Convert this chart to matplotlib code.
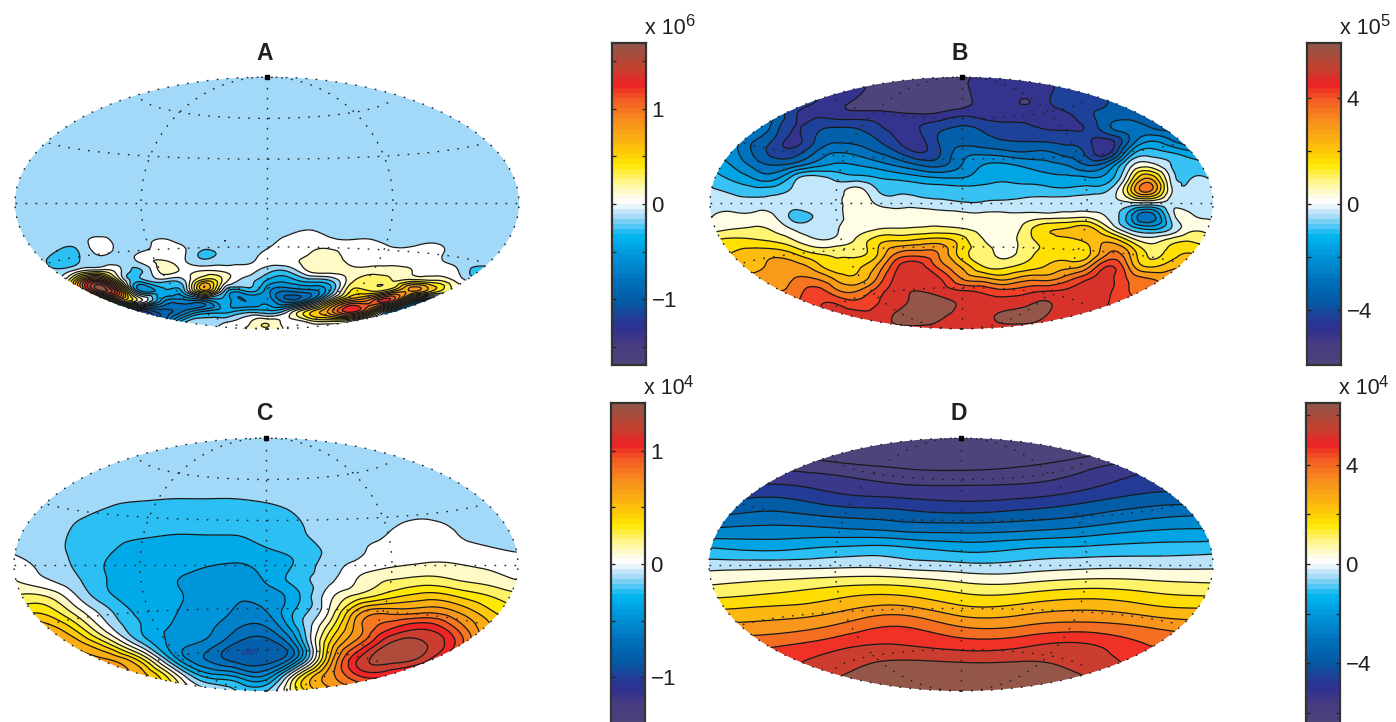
import numpy as np
import matplotlib
matplotlib.use("Agg")
import matplotlib.pyplot as plt
from matplotlib.colors import LinearSegmentedColormap, Normalize
from matplotlib.patches import Ellipse
from matplotlib.tri import Triangulation, UniformTriRefiner

plt.rcParams['font.family'] = ['Liberation Sans', 'DejaVu Sans']

W, H = 1396, 722

a_rows = [1, .5, .02, -.19, -.3, -.38, -.46, -.54, -.62, -.7, -.78, -.86, -.94, -1]
a_field = [
    [-1]*25,
    [-1]*25,
    [-1]*25,
    [-1]*13 + [-.9, -.65, -.9] + [-1]*9,
    [-1, -1, -1.1, -1, -.2, -.9, -.85, -.4, -.8, -1, -.5, -.95, -.8, -.2, .1, -.2, -.4, -.4, -1, -1, -.7, -1, -1, -1, -1],
    [-1, -1, -1.5, -1.5, -.2, -.9, -.6, -.1, -.3, -1.6, -1, -.9, -.4, .1, .4, .6, .2, -.1, -.3, -.1, -.1, -1, -1, -1, -1],
    [-1, -1.1, -1.9, -1.6, -.9, -1, -.2, .6, -.3, -1.3, -.85, -.7, -.1, .2, .9, 1.1, .2, 0, -.1, .2, -.2, -.9, -1, -1, -1],
    [-1, -1, -1.3, .2, 1.2, -.3, -1.6, .8, .3, .6, .3, -.2, -1.1, -1.4, .6, 1, .8, 1.1, 1.2, .4, .2, -.3, -1.9, -1.2, -1],
    [-1, -1, -.9, 5, 9, 1.5, -2.2, -1.1, -.9, 3.5, .9, -.9, -2.7, -3.2, -2.2, -1.7, 1.2, 1.8, 1.5, 2.3, 1.8, .4, -1, -1, -1],
    [-1, -1, -1, 4, 11, 7, -3.5, -2.8, -2.2, 4, -1.8, -2.5, -4, -5.5, -5, -2.5, 2.6, 2.5, 4.3, 5.5, 3, .8, 0, -1, -1],
    [-1, -1, -1, -1, -1, 2, .5, -4, -5, -4.5, -3, -4.5, -3.8, -6, -4, 2, 6, 7.5, 7.2, -4, -5, -1, -1, -1, -1],
    [-1, -1, -1, -1, -6, -8, -9, -7, -5.5, -3.5, -2.8, -2, -2.2, -.6, 3, 6, 9, 4, -3, -6, -5, -1, -1, -1, -1],
    [-1, -1, -1, -1, -1, -3, -5, -6, -2, -1.3, -.7, .1, 1.2, .1, 1, 1.5, .5, -3, -3, -3, -1, -1, -1, -1, -1],
    [-1]*10 + [0, .6, 1.3, .2, 0, 0, 0] + [-1]*8,
]

b_field = [
    [-7]*7 + [-8, -8.5, -8.6, -8.6, -8.6, -8.4, -7.5, -7.4, -7.4, -7, -6.5, -6, -6, -6, -6, -6, -6, -6],
    [-7, -7, -7, -7, -7, -7, -7, -7.6, -8.5, -8.6, -8.6, -8.6, -8.3, -7.5, -7.4, -7.6, -7.2, -6.8, -6.5, -6, -6, -6, -6, -6, -6],
    [-6, -6, -6, -6, -6.5, -7, -7.6, -8.2, -8.6, -8.7, -8.7, -8.7, -8.4, -7.6, -7.5, -8.05, -7.3, -6.5, -6.4, -6, -5.8, -5.5, -5.5, -5.5, -5.5],
    [-5, -5, -5, -5, -6.8, -7.2, -7.5, -7.6, -7.6, -7.8, -7.9, -7.7, -7.2, -7.4, -7.5, -7.4, -7.5, -7.2, -6.3, -5.6, -5.4, -5.3, -5.3, -5, -5],
    [-4, -4, -4, -5.3, -7, -6.4, -6, -6.1, -6.8, -7.3, -7, -6.3, -5.9, -6.2, -6.6, -6.8, -7.1, -7.2, -6.8, -5.2, -4.6, -5, -5.3, -5, -5],
    [-3.5, -3.5, -4.8, -6, -7.3, -6, -5.2, -5.3, -6, -7.1, -7.3, -5.8, -5.4, -5.7, -6, -6.1, -6.2, -6.3, -6.8, -7.2, -5, -3.2, -4, -5, -5],
    [-3, -3.5, -5, -6.3, -6.5, -5, -4, -4.3, -5, -6, -7, -6, -4.5, -4.3, -4.6, -4.9, -4.8, -5.4, -6.3, -7.3, -3, -1.5, -2, -2.7, -2.8],
    [-2.4, -3, -4.2, -5, -4.5, -3.4, -2.8, -3, -3.5, -4.2, -5, -5.2, -4, -3, -2.8, -3.2, -3.6, -4, -5, -4, -.5, .5, -1, -1.7, -2],
    [-1.4, -2.2, -3, -3.4, -1.5, -.6, -1.3, -1.6, -2, -2.3, -2.7, -3, -3, -2.5, -2.2, -2.4, -2.6, -2.8, -2.9, -2.5, 1, 3.8, -.3, -1, -1.3],
    [-.9, -1.2, -1.6, -1.5, -.8, -.4, -.6, .4, -1, -1.2, -1.4, -1.5, -1.6, -1.6, -1.5, -1.5, -1.6, -1.7, -1.5, -1, 2.5, 5.2, .2, -.6, -.8],
    [-.5, -.5, -.6, -.6, -.5, -.3, -.3, .6, -.2, -.4, -.5, -.7, -.9, -.9, -.8, -.7, -.6, -.5, -.4, -.3, -.2, -.1, -.3, -.4, -.4],
    [-.1, .2, .2, .1, -1.3, -.9, -.4, .7, .6, .4, .5, .4, .3, .25, .25, .3, .4, .5, .6, -.2, -2.5, -4.6, -.6, .1, -.2],
    [.5, .9, 1.1, .8, -.2, -.4, -.1, .6, .9, 1, 1.1, 1.2, 1, .7, .5, 1.3, 2.7, 3, 3.4, 1.2, -1.3, -2.4, -1, .7, .5],
    [2, 2.3, 2.2, 1.9, 1.1, .2, .3, 1.2, 2.6, 3, 3.3, 3.5, 2.5, 1.1, .6, 1.4, 2.4, 2.7, 3.3, 3.8, 2, .6, 1.5, 1.9, 1.6],
    [3, 3, 3.4, 3.6, 3, 2, 1.8, 1.7, 3, 5.2, 5.5, 4.8, 2.5, 1.5, .7, 1.5, 2.3, 2.5, 2.7, 5, 4, 1.8, 2.5, 3, 2.5],
    [3.5, 3.5, 3.6, 4.3, 4.4, 3.5, 2.3, 2.7, 4.2, 7, 7.4, 5.5, 3.8, 2, 1.7, 2.3, 3, 3.6, 4.5, 7, 4.8, 2.8, 3.6, 3.8, 3.8],
    [4.4, 4.4, 4.4, 4.5, 5, 5, 3.8, 3.3, 5.2, 7.4, 7.5, 7, 5, 4.3, 3.7, 4.5, 4.6, 5.5, 6.8, 7.3, 5.8, 5, 4.5, 4.5, 4.5],
    [5, 5, 5, 5, 5.4, 6.4, 5.3, 5, 6.5, 7.6, 8, 7.6, 7.1, 6.8, 6.3, 6.6, 7, 7.2, 7.6, 7.2, 6, 5.5, 5, 5, 5],
    [6, 6, 6, 6, 6, 6.7, 7, 6.4, 7, 7.6, 8.7, 8.6, 7.8, 7.5, 7.5, 7.8, 8.1, 7.7, 7.5, 7, 6.5, 6, 6, 6, 6],
    [7, 7, 7, 7, 7, 7, 7.4, 7.4, 7.4, 8.3, 8.7, 8.2, 7.6, 7.7, 8.2, 8.3, 8, 7.5, 7.3, 7, 7, 7, 7, 7, 7],
    [7.6]*25,
]

c_field = [
    [-1]*17,
    [-1]*17,
    [-1]*17,
    [-1]*17,
    [-.9, -1, -1.1, -1.35, -1.5, -1.6, -1.6, -1.6, -1.45, -1.2, -1, -.9, -.85, -.8, -.85, -.9, -1],
    [-.8, -1, -1.4, -1.75, -1.9, -2, -2, -2, -1.9, -1.5, -1.05, -.9, -.7, -.55, -.7, -.8, -.9],
    [-.7, -1, -1.7, -2.2, -2.35, -2.45, -2.45, -2.45, -2.25, -1.7, -1.1, -.8, -.45, -.2, -.48, -.75, -.8],
    [-.6, -1, -1.8, -2.4, -2.7, -2.8, -2.85, -2.85, -2.55, -2, -1.3, -.6, -.3, -.15, -.2, -.4, -.65],
    [-.2, -.8, -1.7, -2.6, -2.95, -3.1, -3.4, -3.55, -3.2, -2.3, -1.03, -.2, .3, .6, .55, .3, .1],
    [.55, -.35, -1.35, -2.55, -3, -3.4, -3.75, -3.85, -3.4, -2, -.75, .7, 1.55, 1.9, 1.55, 1.1, .5],
    [1.5, 1.5, -.5, -2.3, -3.05, -3.3, -3.9, -4.3, -4.05, -2.7, .1, 1.95, 3.2, 3.95, 3.5, 2.6, 1.8],
    [3, 3.2, 1, -1.25, -2.8, -3.4, -4, -4.6, -4.55, -2.2, .6, 5.3, 6.1, 6.3, 5.6, 3.9, 2.6],
    [5, 5, 3, -.2, -2.45, -3.6, -4.2, -5.3, -5.6, -2.4, 2, 6.3, 8.4, 9.3, 7.5, 4.8, 3],
    [6, 6, 5, 2.5, -1.2, -3.8, -4.7, -6.5, -7, -3.9, 3.5, 7.5, 10.7, 10.6, 8.5, 4.5, 3],
    [6, 6, 6, 5.5, 3, -2.5, -5.4, -6.9, -7.1, -4, 4.5, 9.8, 11, 10, 7, 4.5, 3],
    [6, 6, 6, 6, 5, 1.5, -2.8, -3.8, -4.5, 1.5, 6, 8.7, 8.5, 7, 5.5, 4, 3],
    [6, 6, 6, 5.5, 4.5, 2.5, 0, -1.5, -1.6, 2.5, 5, 6, 6, 5.5, 5, 4, 3],
]

d_field = [
    [-9, -9, -10, -10.6, -11, -10.6, -10, -9, -9],
    [-8.5, -8.6, -9.6, -9.8, -10, -9.8, -9.2, -8.4, -8.3],
    [-8, -8, -8.4, -8.9, -9.05, -8.8, -8.05, -7.2, -7.4],
    [-7.2, -6.9, -7.4, -7.9, -8, -7.9, -7.25, -6.4, -6.6],
    [-6.3, -5.7, -6.4, -6.7, -7, -6.75, -6.1, -5.4, -5.4],
    [-5, -4.6, -5, -5.35, -5.6, -5.35, -4.85, -4.15, -3.8],
    [-3.6, -3.45, -3.5, -3.8, -4, -3.8, -3.35, -2.8, -2.7],
    [-1.9, -2.2, -1.8, -1.75, -2.3, -2, -1.75, -1.55, -1.4],
    [-.55, -.5, -.35, -.45, -.8, -.7, -.4, -.35, -.3],
    [.7, 1, 1.35, 1.4, .8, .75, 1.15, 1, .8],
    [1.8, 2.2, 2.8, 3.1, 2.25, 2.3, 2.75, 2.3, 2],
    [3.2, 3.45, 3.95, 4.7, 3.6, 3.75, 4.15, 3.6, 3.3],
    [4.4, 4.5, 5.25, 6.1, 5.1, 5.2, 5.55, 5, 4.5],
    [5.5, 5.75, 6.5, 6.95, 6.45, 6.7, 7, 5.9, 5.6],
    [6.5, 6.6, 7.4, 7.95, 7.75, 7.85, 7.45, 6.6, 6.6],
    [7.5, 7.5, 7.85, 9, 9, 9, 7.9, 7.2, 7.5],
    [8.5, 8.5, 9, 10, 10, 10, 9, 8, 8],
]

steps = [.14, .65, .118, .72]
offsets = [.5, 0, .5, 0]      # A and C centre a white band on zero
line_spans = [(-12, 12), (-8, 8), (-7, 10), (-9, 8)]
fill_spans = [(-14, 14), (-8, 8), (-9, 12), (-9, 8)]
ranges = [1.69, 6.07, 1.42, 6.5]
titles = ["A", "B", "C", "D"]
exponents = ["6", "5", "4", "4"]
bar_ticks = [
    [-1.5, -1, -.5, 0, .5, 1, 1.5],
    [-4, -2, 0, 2, 4],
    [-1, -.5, 0, .5, 1],
    [-6, -4, -2, 0, 2, 4, 6],
]
bar_labels = [[-1, 0, 1], [-4, 0, 4], [-1, 0, 1], [-4, 0, 4]]

# pixel boxes: ellipse left, right, top, bottom / colorbar left, right, top, bottom
map_boxes = [(15, 519, 77, 329), (710, 1213, 77, 329), (14, 518, 438, 691), (709, 1213, 438, 691)]
bar_boxes = [(612, 646, 43, 365), (1307, 1341, 43, 365), (611, 645, 403, 725), (1306, 1340, 403, 725)]

stops = [
    (-1, (76, 68, 122)), (-.88, (70, 60, 130)), (-.78, (46, 49, 146)), (-.72, (35, 60, 150)),
    (-.62, (5, 90, 165)), (-.5, (0, 110, 185)), (-.35, (0, 145, 215)), (-.2, (0, 182, 240)),
    (-.14, (85, 200, 245)), (-.08, (165, 218, 248)), (-.02, (225, 243, 252)), (0, (255, 255, 255)),
    (.01, (255, 255, 255)), (.05, (255, 253, 230)), (.15, (255, 245, 130)), (.25, (255, 232, 0)),
    (.35, (254, 195, 12)), (.5, (248, 150, 28)), (.65, (243, 95, 35)), (.75, (238, 35, 38)),
    (.85, (197, 65, 48)), (1, (148, 86, 72)),
]
cmap = LinearSegmentedColormap.from_list(
    "jetish", [((f + 1) / 2, tuple(v / 255 for v in c)) for f, c in stops], N=256)
bar_cmap = cmap.resampled(64)


def px_axes(fig, box):
    l, r, t, b = box
    return fig.add_axes([l / W, 1 - b / H, (r - l) / W, (b - t) / H])


def graticule(ax):
    style = dict(color="#222222", lw=1.0, ls=(0, (1.2, 6)), clip_on=False, zorder=5)
    for lat in [-60, -30, 0, 30, 60]:
        lon = np.radians(np.linspace(-180, 180, 300))
        phi = np.radians(lat)
        d = np.sqrt(1 + np.cos(phi) * np.cos(lon / 2))
        ax.plot(np.cos(phi) * np.sin(lon / 2) / d, .95 * np.sin(phi) / d, **style)
    t = np.linspace(-1, 1, 300)
    for m in [-1, -.5, 0, .5, 1]:
        ax.plot(m * np.sqrt(1 - t**2), t, **style)
    ax.plot([0], [1], "s", color="k", ms=2.5, clip_on=False, zorder=6)


def draw_map(fig, box, field, rows, step, offset, line_span, fill_span, vmax):
    ax = px_axes(fig, box)
    field = np.array(field, dtype=float)
    cols = np.linspace(-1, 1, field.shape[1])
    xx, yy = np.meshgrid(cols, rows)
    tri = Triangulation(xx.ravel(), yy.ravel())
    fine, zfine = UniformTriRefiner(tri).refine_field(field.ravel(), subdiv=3)
    fill_levels = (np.arange(fill_span[0], fill_span[1] + 1) + offset) * step
    line_levels = (np.arange(line_span[0], line_span[1] + 1) + offset) * step
    norm = Normalize(-vmax, vmax)
    cf = ax.tricontourf(fine, zfine * step, levels=fill_levels, cmap=cmap, norm=norm, extend="both")
    cl = ax.tricontour(fine, zfine * step, levels=line_levels, colors="#1a1a1a", linewidths=0.9,
                       negative_linestyles="solid")
    rim = Ellipse((0, 0), 2, 2, transform=ax.transData, fc="none", ec="none")
    ax.add_patch(rim)
    cf.set_clip_path(rim)
    cl.set_clip_path(rim)
    graticule(ax)
    ax.set_xlim(-1, 1)
    ax.set_ylim(-1, 1)
    ax.axis("off")


def draw_bar(fig, box, vmax, ticks, labels, exponent):
    ax = px_axes(fig, box)
    grad = np.linspace(vmax, -vmax, 64)[:, None]
    ax.imshow(grad, cmap=bar_cmap, vmin=-vmax, vmax=vmax, aspect="auto",
              extent=[0, 1, -vmax, vmax], interpolation="nearest")
    ax.set_xticks([])
    ax.set_yticks(ticks)
    ax.set_yticklabels([(str(v).replace("-", "\u2212") if v in labels else "") for v in ticks],
                       fontsize=16, color="#231f20")
    ax.tick_params(axis="y", direction="in", length=3, width=.9, pad=4, color="#222222",
                   left=True, right=True, labelleft=False, labelright=True)
    for s in ax.spines.values():
        s.set_color("#333333")
        s.set_linewidth(1.6)
    l, r, t, b = box
    fig.text((r - 1) / W, 1 - (t - 15) / H, "x 10", fontsize=15.5, color="#231f20", va="center", ha="left")
    fig.text((r + 39) / W, 1 - (t - 21) / H, exponent, fontsize=12, color="#231f20", va="center", ha="left")


fig = plt.figure(figsize=(W / 100, H / 100), dpi=100)
fields = [a_field, b_field, c_field, d_field]
row_sets = [np.array(a_rows), np.linspace(1, -1, 21), np.linspace(1, -1, 17), np.linspace(1, -1, 17)]
for i in range(4):
    draw_map(fig, map_boxes[i], fields[i], row_sets[i], steps[i], offsets[i],
             line_spans[i], fill_spans[i], ranges[i])
    draw_bar(fig, bar_boxes[i], ranges[i], bar_ticks[i], bar_labels[i], exponents[i])
    l, r, t, b = map_boxes[i]
    fig.text(((l + r) / 2 - 2) / W, 1 - (t - 24) / H, titles[i], fontsize=16.5, fontweight="bold",
             color="#231f20", ha="center", va="center")

fig.savefig("out.png", dpi=100)
